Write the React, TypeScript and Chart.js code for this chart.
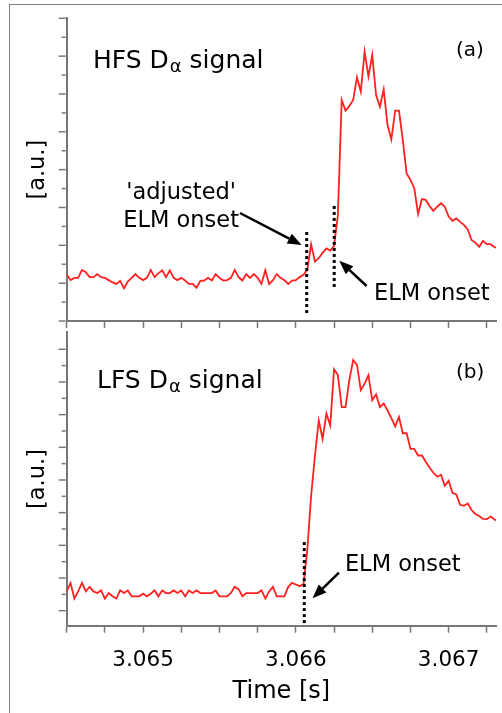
import React, { useEffect, useRef } from "react";
import { Chart, registerables } from "chart.js";

Chart.register(...registerables);

const FONT = '"DejaVu Sans", Verdana, sans-serif';
const AXIS = "#777777";
const TRACE = "#ff2020";

// Sampling clock of the D-alpha diagnostics
const T0 = 3.0645; // s
const DT = 2.5e-5; // s

// High-field-side D-alpha signal [a.u.]
const hfsSignal = [
  1.23, 1.08, 1.14, 1.14, 1.35, 1.29, 1.16, 1.16, 1.24, 1.16,
  1.14, 1.08, 1.02, 0.98, 1.06, 0.86, 1.04, 1.14, 1.24, 1.14,
  1.08, 1.14, 1.35, 1.16, 1.26, 1.34, 1.16, 1.34, 1.14, 1.08,
  1.14, 1.07, 0.98, 0.98, 0.88, 1.06, 1.07, 1.14, 1.07, 1.24,
  1.14, 1.07, 1.08, 1.14, 1.35, 1.16, 1.07, 1.24, 1.14, 1.24,
  1.14, 0.98, 1.34, 0.98, 1.08, 1.24, 1.14, 1.08, 0.98, 1.07,
  1.08, 1.16,
  1.22, 1.35, 2.03, 1.57, 1.66, 1.8, 1.92, 1.86, 1.98, 2.8,
  5.84, 5.56, 5.68, 5.84, 6.44, 6.06, 7.12, 6.46, 7.03, 5.97,
  5.66, 6.12, 5.18, 4.8, 5.56, 5.56, 4.78, 3.9, 3.73, 3.51,
  2.83, 3.22, 3.2, 3.04, 2.91, 3.02, 3.11, 3.02, 2.76, 2.65,
  2.71, 2.62, 2.54, 2.42, 2.14, 2.07, 1.96, 2.12, 2.03, 2.03,
  1.95, 1.93,
];

// Low-field-side D-alpha signal [a.u.]
const lfsSignal = [
  0.59, 0.85, 0.37, 0.59, 0.85, 0.59, 0.73, 0.59, 0.54, 0.62,
  0.37, 0.54, 0.44, 0.37, 0.62, 0.54, 0.62, 0.44, 0.44, 0.44,
  0.52, 0.44, 0.52, 0.62, 0.44, 0.62, 0.54, 0.54, 0.62, 0.54,
  0.62, 0.44, 0.62, 0.54, 0.62, 0.54, 0.54, 0.54, 0.54, 0.62,
  0.44, 0.44, 0.44, 0.54, 0.73, 0.66, 0.44, 0.54, 0.54, 0.54,
  0.54, 0.62, 0.37, 0.59, 0.73, 0.44, 0.44, 0.44, 0.73, 0.85,
  0.8, 0.75,
  0.81, 1.86, 3.52, 4.75, 5.82, 5.26, 6.03, 5.67, 7.39, 7.21,
  6.23, 6.23, 7.06, 7.67, 7.52, 6.75, 6.95, 7.21, 6.44, 6.62,
  6.23, 6.34, 6.13, 5.89, 5.64, 5.93, 5.43, 5.43, 4.95, 4.95,
  4.75, 4.75, 4.56, 4.38, 4.22, 4.1, 4.16, 3.82, 3.98, 3.61,
  3.56, 3.24, 3.21, 3.28, 3.08, 2.96, 2.9, 2.81, 2.8, 2.88,
  2.79, 2.74,
];

// Time axis
const X_MIN = 3.0645;
const X_MAX = 3.06731;
const xTickValues = [
  3.0645, 3.06475, 3.065, 3.06525, 3.0655, 3.06575,
  3.066, 3.06625, 3.0665, 3.06675, 3.067, 3.06725,
];
const xTickLabels = ["", "", "3.065", "", "", "", "3.066", "", "", "", "3.067", ""];

// Vertical axes: major ticks at whole units, minor at halves
const yTickValues = [0, 0.5, 1, 1.5, 2, 2.5, 3, 3.5, 4, 4.5, 5, 5.5, 6, 6.5, 7, 7.5, 8];

// ELM onset markers: time, lower and upper end of the dotted line
const hfsMarkerTimes = [3.066071, 3.066251];
const hfsMarkerLow = [0.21, 0.9];
const hfsMarkerHigh = [2.4, 3.09];
const lfsMarkerTimes = [3.066055];
const lfsMarkerLow = [-0.38];
const lfsMarkerHigh = [2.18];

// Arrows pointing at the onset markers: [time, value] of tail and tip
const hfsArrowTails = [[3.065634, 2.854], [3.066463, 0.925]];
const hfsArrowTips = [[3.066038, 2.008], [3.066284, 1.594]];
const lfsArrowTails = [[3.066282, 1.163]];
const lfsArrowTips = [[3.066109, 0.378]];

type Note = { text: string; at: [number, number]; align: CanvasTextAlign; size: number };

type Panel = {
  signal: number[];
  yMin: number;
  yMax: number;
  markerTimes: number[];
  markerLow: number[];
  markerHigh: number[];
  arrowTails: number[][];
  arrowTips: number[][];
  label: string;
  labelAt: [number, number];
  notes: Note[];
  showTime: boolean;
  padding: { top: number; bottom: number };
};

const panels: Panel[] = [
  {
    signal: hfsSignal,
    yMin: 0,
    yMax: 8,
    markerTimes: hfsMarkerTimes,
    markerLow: hfsMarkerLow,
    markerHigh: hfsMarkerHigh,
    arrowTails: hfsArrowTails,
    arrowTips: hfsArrowTips,
    label: "HFS",
    labelAt: [3.064672, 6.678],
    notes: [
      { text: "(a)", at: [3.067048, 7.016], align: "left", size: 20 },
      { text: "'adjusted'", at: [3.065249, 3.216], align: "center", size: 22.5 },
      { text: "ELM onset", at: [3.065249, 2.492], align: "center", size: 22.5 },
      { text: "ELM onset", at: [3.066511, 0.555], align: "left", size: 22.5 },
    ],
    showTime: false,
    padding: { top: 18.3, bottom: 385 },
  },
  {
    signal: lfsSignal,
    yMin: -0.46,
    yMax: 8.52,
    markerTimes: lfsMarkerTimes,
    markerLow: lfsMarkerLow,
    markerHigh: lfsMarkerHigh,
    arrowTails: lfsArrowTails,
    arrowTips: lfsArrowTips,
    label: "LFS",
    labelAt: [3.064698, 6.8],
    notes: [
      { text: "(b)", at: [3.067048, 7.13], align: "left", size: 20 },
      { text: "ELM onset", at: [3.066321, 1.21], align: "left", size: 22.5 },
    ],
    showTime: true,
    padding: { top: 332.3, bottom: 6.7 },
  },
];

function drawArrow(ctx: CanvasRenderingContext2D, x1: number, y1: number, x2: number, y2: number) {
  const ang = Math.atan2(y2 - y1, x2 - x1);
  const head = 14;
  const half = 5.5;
  const bx = x2 - head * Math.cos(ang);
  const by = y2 - head * Math.sin(ang);
  ctx.strokeStyle = "#000";
  ctx.fillStyle = "#000";
  ctx.lineWidth = 2.5;
  ctx.beginPath();
  ctx.moveTo(x1, y1);
  ctx.lineTo(bx, by);
  ctx.stroke();
  ctx.beginPath();
  ctx.moveTo(x2, y2);
  ctx.lineTo(bx - half * Math.sin(ang), by + half * Math.cos(ang));
  ctx.lineTo(bx + half * Math.sin(ang), by - half * Math.cos(ang));
  ctx.closePath();
  ctx.fill();
}

function panelDecorations(panel: Panel) {
  return {
    id: "panelDecorations",
    afterDraw(chart: any) {
      const { ctx, chartArea } = chart;
      const xs = chart.scales.x;
      const ys = chart.scales.y;
      ctx.save();

      // tick marks on the vertical axis, long for whole units
      ctx.strokeStyle = AXIS;
      ctx.lineWidth = 1.5;
      for (const tick of ys.ticks) {
        const py = ys.getPixelForValue(tick.value);
        const len = Number.isInteger(tick.value) ? 7 : 4;
        ctx.beginPath();
        ctx.moveTo(chartArea.left - 1, py);
        ctx.lineTo(chartArea.left - 1 - len, py);
        ctx.stroke();
      }

      // arrows
      panel.arrowTails.forEach((tail, i) => {
        const tip = panel.arrowTips[i];
        drawArrow(
          ctx,
          xs.getPixelForValue(tail[0]),
          ys.getPixelForValue(tail[1]),
          xs.getPixelForValue(tip[0]),
          ys.getPixelForValue(tip[1])
        );
      });

      // panel heading with subscript alpha
      ctx.fillStyle = "#000";
      ctx.textBaseline = "alphabetic";
      ctx.textAlign = "left";
      let x = xs.getPixelForValue(panel.labelAt[0]);
      const y = ys.getPixelForValue(panel.labelAt[1]);
      ctx.font = `25px ${FONT}`;
      const head = `${panel.label} D`;
      ctx.fillText(head, x, y);
      x += ctx.measureText(head).width + 1;
      ctx.font = `18px ${FONT}`;
      ctx.fillText("\u03b1", x, y + 4);
      x += ctx.measureText("\u03b1").width;
      ctx.font = `25px ${FONT}`;
      ctx.fillText(" signal", x, y);

      // other notes
      for (const note of panel.notes) {
        ctx.font = `${note.size}px ${FONT}`;
        ctx.textAlign = note.align;
        ctx.fillText(note.text, xs.getPixelForValue(note.at[0]), ys.getPixelForValue(note.at[1]));
      }
      ctx.restore();
    },
  };
}

function PanelChart({ panel }: { panel: Panel }) {
  const ref = useRef<HTMLCanvasElement | null>(null);

  useEffect(() => {
    if (!ref.current) return;
    const points = panel.signal.map((v, i) => ({ x: T0 + i * DT, y: v }));
    const markers = panel.markerTimes.map((t, i) => ({
      data: [
        { x: t, y: panel.markerLow[i] },
        { x: t, y: panel.markerHigh[i] },
      ],
      borderColor: "#000",
      borderWidth: 3,
      borderDash: [3, 3],
      pointRadius: 0,
      order: 0,
    }));

    const chart = new Chart(ref.current, {
      type: "line",
      data: {
        datasets: [
          {
            data: points,
            borderColor: TRACE,
            borderWidth: 1.8,
            pointRadius: 0,
            tension: 0,
            order: 1,
          },
          ...markers,
        ],
      },
      options: {
        responsive: false,
        animation: false,
        devicePixelRatio: 1,
        events: [],
        layout: { padding: { left: 0, right: 6, top: panel.padding.top, bottom: panel.padding.bottom } },
        plugins: { legend: { display: false }, tooltip: { enabled: false } },
        scales: {
          x: {
            type: "linear",
            min: X_MIN,
            max: X_MAX,
            afterBuildTicks: (s: any) => {
              s.ticks = xTickValues.map((value) => ({ value }));
            },
            ticks: {
              display: panel.showTime,
              autoSkip: false,
              maxRotation: 0,
              padding: 14.5,
              color: "#000",
              font: { family: FONT, size: 21.5 },
              callback: (v: any) => {
                const idx = xTickValues.findIndex((t) => Math.abs(t - Number(v)) < 1e-9);
                return idx >= 0 ? xTickLabels[idx] : "";
              },
            },
            grid: { drawOnChartArea: false, drawTicks: true, tickLength: 7, tickWidth: 1.5, tickColor: AXIS },
            border: { display: true, color: AXIS, width: 2 },
            title: {
              display: panel.showTime,
              text: "Time [s]",
              color: "#000",
              font: { family: FONT, size: 24 },
              padding: { top: -10, bottom: 0 },
            },
          },
          y: {
            type: "linear",
            min: panel.yMin,
            max: panel.yMax,
            afterBuildTicks: (s: any) => {
              s.ticks = yTickValues.map((value) => ({ value }));
            },
            ticks: { display: false },
            grid: { drawOnChartArea: false, drawTicks: false },
            border: { display: true, color: AXIS, width: 2 },
            title: {
              display: true,
              text: "[a.u.]",
              color: "#000",
              font: { family: FONT, size: 22.5 },
              padding: { top: 25, bottom: 14.7 },
            },
          },
        },
      },
      plugins: [panelDecorations(panel)],
    } as any);
    return () => chart.destroy();
  }, [panel]);

  return (
    <canvas
      ref={ref}
      width={502}
      height={713}
      style={{ position: "absolute", left: 0, top: 0, width: 502, height: 713 }}
    />
  );
}

export default function App() {
  return (
    <div
      style={{
        position: "absolute",
        left: 0,
        top: 0,
        width: 502,
        height: 713,
        overflow: "hidden",
        background: "#fff",
      }}
    >
      <div
        style={{
          position: "absolute",
          left: 9,
          top: 4,
          right: -20,
          bottom: -20,
          borderLeft: "1.5px solid #808080",
          borderTop: "1.5px solid #808080",
        }}
      />
      {panels.map((p, i) => (
        <PanelChart key={i} panel={p} />
      ))}
    </div>
  );
}
